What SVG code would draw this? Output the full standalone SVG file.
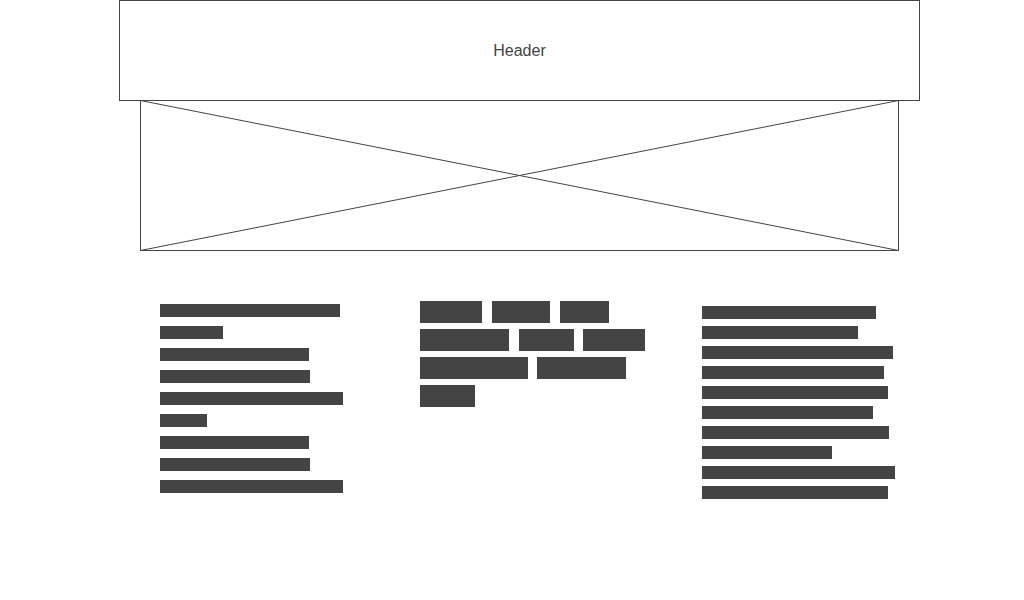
<svg xmlns="http://www.w3.org/2000/svg" width="1024" height="600" viewBox="0 0 1024 600">
<style>
.box{fill:#fff;stroke:#444;stroke-width:1}
.ln{stroke:#444;stroke-width:1;fill:none}
.bar{fill:#444}
.lbl{font-family:"Liberation Sans",Arial,sans-serif;font-size:16px;fill:#444;text-anchor:middle}
</style>
<rect width="1024" height="600" fill="#fff"/>
<g id="header">
<rect class="box" x="119.5" y="0.5" width="800" height="100"/>
<text class="lbl" x="519.5" y="56">Header</text>
</g>
<g id="image">
<rect class="box" x="140.5" y="100.5" width="758" height="150"/>
<line class="ln" x1="140.5" y1="100.5" x2="898.5" y2="250.5"/>
<line class="ln" x1="898.5" y1="100.5" x2="140.5" y2="250.5"/>
</g>
<g id="left-column">
<rect class="bar" x="160" y="304" width="180" height="13"/>
<rect class="bar" x="160" y="326" width="63" height="13"/>
<rect class="bar" x="160" y="348" width="149" height="13"/>
<rect class="bar" x="160" y="370" width="150" height="13"/>
<rect class="bar" x="160" y="392" width="183" height="13"/>
<rect class="bar" x="160" y="414" width="47" height="13"/>
<rect class="bar" x="160" y="436" width="149" height="13"/>
<rect class="bar" x="160" y="458" width="150" height="13"/>
<rect class="bar" x="160" y="480" width="183" height="13"/>
</g>
<g id="middle-column">
<rect class="bar" x="420" y="301" width="62" height="22"/>
<rect class="bar" x="492" y="301" width="58" height="22"/>
<rect class="bar" x="560" y="301" width="49" height="22"/>
<rect class="bar" x="420" y="329" width="89" height="22"/>
<rect class="bar" x="519" y="329" width="55" height="22"/>
<rect class="bar" x="583" y="329" width="62" height="22"/>
<rect class="bar" x="420" y="357" width="108" height="22"/>
<rect class="bar" x="537" y="357" width="89" height="22"/>
<rect class="bar" x="420" y="385" width="55" height="22"/>
</g>
<g id="right-column">
<rect class="bar" x="702" y="306" width="174" height="13"/>
<rect class="bar" x="702" y="326" width="156" height="13"/>
<rect class="bar" x="702" y="346" width="191" height="13"/>
<rect class="bar" x="702" y="366" width="182" height="13"/>
<rect class="bar" x="702" y="386" width="186" height="13"/>
<rect class="bar" x="702" y="406" width="171" height="13"/>
<rect class="bar" x="702" y="426" width="187" height="13"/>
<rect class="bar" x="702" y="446" width="130" height="13"/>
<rect class="bar" x="702" y="466" width="193" height="13"/>
<rect class="bar" x="702" y="486" width="186" height="13"/>
</g>
<g id="connectors"/>
</svg>
